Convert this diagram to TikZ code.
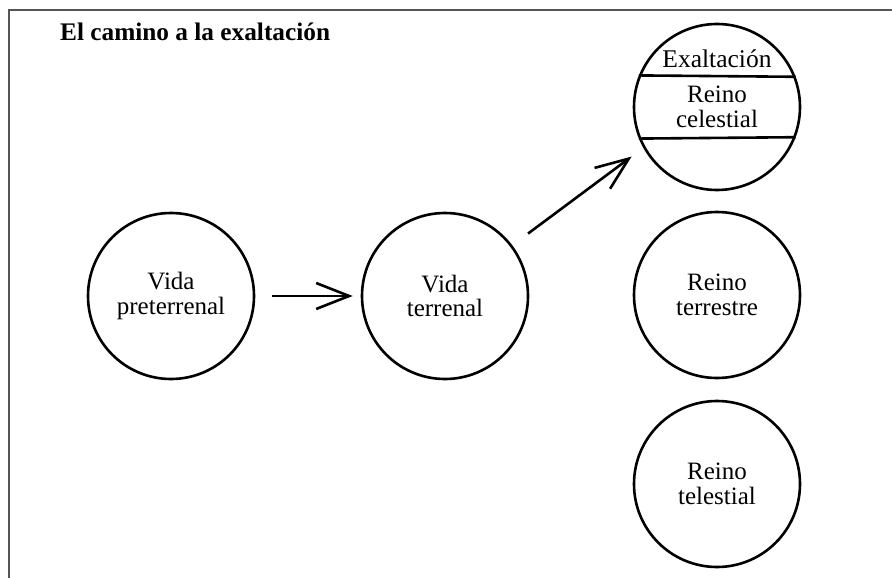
\documentclass[tikz,border=0pt]{standalone}
\usepackage{fontspec}
\setmainfont{Liberation Serif}
\usetikzlibrary{arrows.meta}
\definecolor{framegray}{HTML}{555555}
\tikzset{
  realm/.style={circle, draw=black, line width=2.6pt, minimum size=166pt, inner sep=0pt,
    align=center, font=\fontsize{25}{24.5}\selectfont},
  conn/.style={line width=2.6pt, -{Straight Barb[length=33pt,width=26pt,line width=2.6pt]}},
  chord/.style={line width=2.6pt},
  framestyle/.style={draw=framegray, line width=1.5pt},
  lbl/.style={font=\fontsize{25.5}{24.5}\selectfont, inner sep=0pt},
  titlestyle/.style={font=\fontsize{25.3}{25}\selectfont\bfseries, inner sep=0pt}
}
\begin{document}
\begin{tikzpicture}[x=1pt,y=-1pt]
\useasboundingbox (0,0) rectangle (892,578);
\coordinate (fb) at (9,578);
\coordinate (fc) at (9,10);
\coordinate (fr) at (892,10);
\draw[framestyle] (fb) -- (fc) -- (fr);
\node[titlestyle, anchor=base west] (title) at (60,41) {El camino a la exaltación};
\node[realm] (pre) at (171,296) {Vida\\preterrenal};
\node[realm] (ter) at (445,296) {Vida\\terrenal};
\node[realm] (cel) at (717,107) {Reino\\celestial};
\node[realm] (trr) at (717,295) {Reino\\terrestre};
\node[realm] (tel) at (717,484) {Reino\\telestial};
\node[lbl, anchor=base] (exal) at (717,68) {Exaltación};
\draw[chord] (cel.158.7) -- (cel.21.3);
\draw[chord] (cel.-158.7) -- (cel.-21.3);
\draw[conn, shorten <=17pt, shorten >=8pt] (pre.east) -- (ter.west);
\draw[conn, shorten <=19.6pt, shorten >=14.5pt] (ter.37) -- (cel.209);
\end{tikzpicture}
\end{document}
